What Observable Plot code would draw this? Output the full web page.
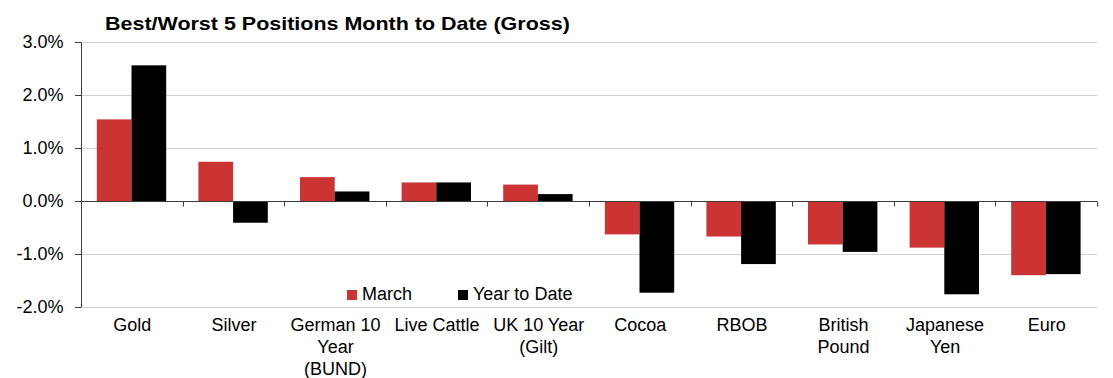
<!DOCTYPE html>
<html>
<head>
<meta charset="utf-8">
<script src="https://cdn.jsdelivr.net/npm/d3@7"></script>
<script src="https://cdn.jsdelivr.net/npm/@observablehq/plot@0.6"></script>
<style>
  html, body { margin: 0; padding: 0; background: #fff; }
  #wrap { position: relative; width: 1113px; height: 378px; font-family: "Liberation Sans", Arial, sans-serif; color: #000; }
  #title { height: 30px; overflow: visible; box-sizing: border-box; padding: 15px 0 0 105px; font-size: 19px; line-height: 18px; font-weight: bold; white-space: nowrap; }
  #title span { display: inline-block; transform: scaleX(1.13); transform-origin: left center; }
  .leg { position: absolute; top: 286px; display: flex; align-items: center; font-size: 18px; line-height: 17px; white-space: nowrap; }
  .leg i { display: inline-block; width: 10px; height: 10px; margin-right: 5px; }
</style>
</head>
<body>
<div id="wrap">
  <div id="title"><span>Best/Worst 5 Positions Month to Date (Gross)</span></div>
  <div id="chart"></div>
  <div class="leg" style="left:347px"><i style="background:#cc3333"></i>March</div>
  <div class="leg" style="left:458px"><i style="background:#000"></i>Year to Date</div>
</div>
<script>
// ---- data ----
const categories = ["Gold", "Silver", "German 10 Year (BUND)", "Live Cattle", "UK 10 Year (Gilt)", "Cocoa", "RBOB", "British Pound", "Japanese Yen", "Euro"];
const categoryLabels = ["Gold", "Silver", "German 10\nYear\n(BUND)", "Live Cattle", "UK 10 Year\n(Gilt)", "Cocoa", "RBOB", "British\nPound", "Japanese\nYen", "Euro"];
const seriesNames = ["March", "Year to Date"];
const marchValues = [1.54, 0.74, 0.45, 0.35, 0.31, -0.63, -0.67, -0.82, -0.88, -1.40];
const ytdValues = [2.56, -0.41, 0.18, 0.35, 0.13, -1.73, -1.19, -0.96, -1.76, -1.38];
const yTicks = [-2, -1, 0, 1, 2, 3];

// ---- styles ----
const red = "#cc3333", black = "#000000", gridColor = "#d0d0d0", axisColor = "#3c3c3c";

const march = categories.map((c, i) => ({category: c, series: seriesNames[0], value: marchValues[i]}));
const ytd = categories.map((c, i) => ({category: c, series: seriesNames[1], value: ytdValues[i]}));
const labelOf = new Map(categories.map((c, i) => [c, categoryLabels[i]]));

function decor(index, scales, values, dims) {
  const {x, y} = scales;
  const bw = typeof x.bandwidth === "function" ? x.bandwidth() : (dims.width - dims.marginLeft - dims.marginRight) / categories.length;
  const left = dims.marginLeft, right = dims.width - dims.marginRight;
  const y0 = Math.round(y(0)) + 0.5;
  const g = d3.create("svg:g").attr("stroke", axisColor).attr("stroke-width", 1).attr("fill", "none");
  g.append("line").attr("x1", left + 0.5).attr("x2", left + 0.5)
    .attr("y1", Math.round(y(d3.max(yTicks))) + 0.5).attr("y2", Math.round(y(d3.min(yTicks))) + 0.5);
  g.append("line").attr("x1", left).attr("x2", right).attr("y1", y0).attr("y2", y0);
  for (const c of categories) {
    const xe = Math.round(x(c) + bw) + 0.5;
    g.append("line").attr("x1", xe).attr("x2", xe).attr("y1", y0).attr("y2", y0 + 5);
  }
  return g.node();
}

const chart = Plot.plot({
  width: 1113,
  height: 348,
  marginTop: 12,
  marginBottom: 71,
  marginLeft: 81,
  marginRight: 16,
  style: {fontFamily: "Liberation Sans, Arial, sans-serif", fontSize: "18px", color: "#000", background: "#fff"},
  x: {domain: categories, padding: 0, round: false, label: null},
  y: {domain: [-2, 3], label: null},
  marks: [
    Plot.gridY({ticks: yTicks, stroke: gridColor, strokeOpacity: 1, strokeWidth: 1.2}),
    Plot.barY(march, {x: "category", y: "value", fill: red, insetLeft: 15.8, insetRight: 51.1}),
    Plot.barY(ytd, {x: "category", y: "value", fill: black, insetLeft: 50.5, insetRight: 16.4}),
    decor,
    Plot.axisY({ticks: yTicks, tickSize: 6, tickPadding: 12, stroke: axisColor, tickFormat: d => d.toFixed(1) + "%", fontSize: 18, label: null}),
    Plot.axisX({anchor: "bottom", tickSize: 0, tickPadding: 8, lineHeight: 1.22, fontSize: 18, tickFormat: d => labelOf.get(d), label: null})
  ]
});
document.getElementById("chart").appendChild(chart);
</script>
</body>
</html>
